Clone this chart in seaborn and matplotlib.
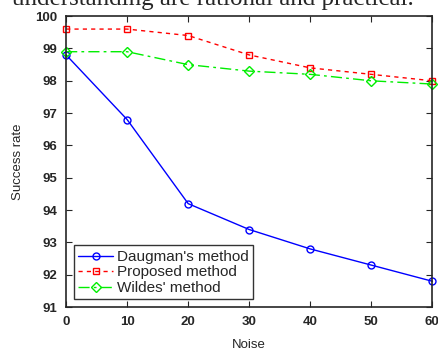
import pandas as pd
import seaborn as sns
import matplotlib.pyplot as plt

# values
noise = [0, 10, 20, 30, 40, 50, 60]
daugman = [98.8, 96.8, 94.2, 93.4, 92.8, 92.3, 91.8]
proposed = [99.6, 99.6, 99.4, 98.8, 98.4, 98.2, 98.0]
wildes = [98.9, 98.9, 98.5, 98.3, 98.2, 98.0, 97.9]
methods = ["Daugman's method", "Proposed method", "Wildes' method"]
y_ticks = [91, 92, 93, 94, 95, 96, 97, 98, 99, 100]

df = pd.DataFrame({
    'Noise': noise * 3,
    'Success rate': daugman + proposed + wildes,
    'Method': [m for m in methods for _ in noise],
})

sns.set_style("ticks")
plt.rcParams['font.family'] = ['Liberation Sans', 'DejaVu Sans']
plt.rcParams['xtick.direction'] = 'in'
plt.rcParams['ytick.direction'] = 'in'

fig = plt.figure(figsize=(4.38, 3.51), dpi=100)
ax = fig.add_axes([0.151, 0.125, 0.836, 0.829])

palette = {methods[0]: '#0000ff', methods[1]: '#ff0000', methods[2]: '#00ee00'}
markers = {methods[0]: 'o', methods[1]: 's', methods[2]: 'D'}
dashes = {methods[0]: '', methods[1]: (3, 3), methods[2]: (8, 3, 2, 3)}

sns.lineplot(data=df, x='Noise', y='Success rate', hue='Method', style='Method',
             palette=palette, markers=markers, dashes=dashes, linewidth=1.0,
             markersize=5, ax=ax, clip_on=False)

# hollow markers like matlab
for line in ax.lines:
    line.set_markerfacecolor('none')
    line.set_markeredgecolor(line.get_color())
    line.set_markeredgewidth(1.0)

ax.set_xlim(0, 60)
ax.set_ylim(91, 100)
ax.set_xticks(noise)
ax.set_yticks(y_ticks)
ax.tick_params(labelsize=9.5, length=4, width=0.8, top=True, right=True, pad=6.5)
for lbl in ax.get_xticklabels() + ax.get_yticklabels():
    lbl.set_fontweight('bold')
for s in ax.spines.values():
    s.set_visible(True)
    s.set_linewidth(1.2)
ax.set_xlabel('Noise', fontsize=9.5, labelpad=8)
ax.set_ylabel('Success rate', fontsize=9.5, labelpad=8)

leg = ax.legend(loc='lower left', fontsize=11, frameon=True, fancybox=False,
                edgecolor='black', handlelength=2.3, borderpad=0.3,
                labelspacing=0.1, handletextpad=0.2, borderaxespad=0.5)
leg.get_frame().set_linewidth(1.0)
for h in leg.legend_handles:
    h.set_markerfacecolor('none')
    h.set_markeredgecolor(h.get_color())

fig.text(0.485, 0.986, 'understanding are rational and practical.',
         ha='center', va='baseline', fontsize=18, family='Liberation Serif')

fig.savefig('out.png', dpi=100)
